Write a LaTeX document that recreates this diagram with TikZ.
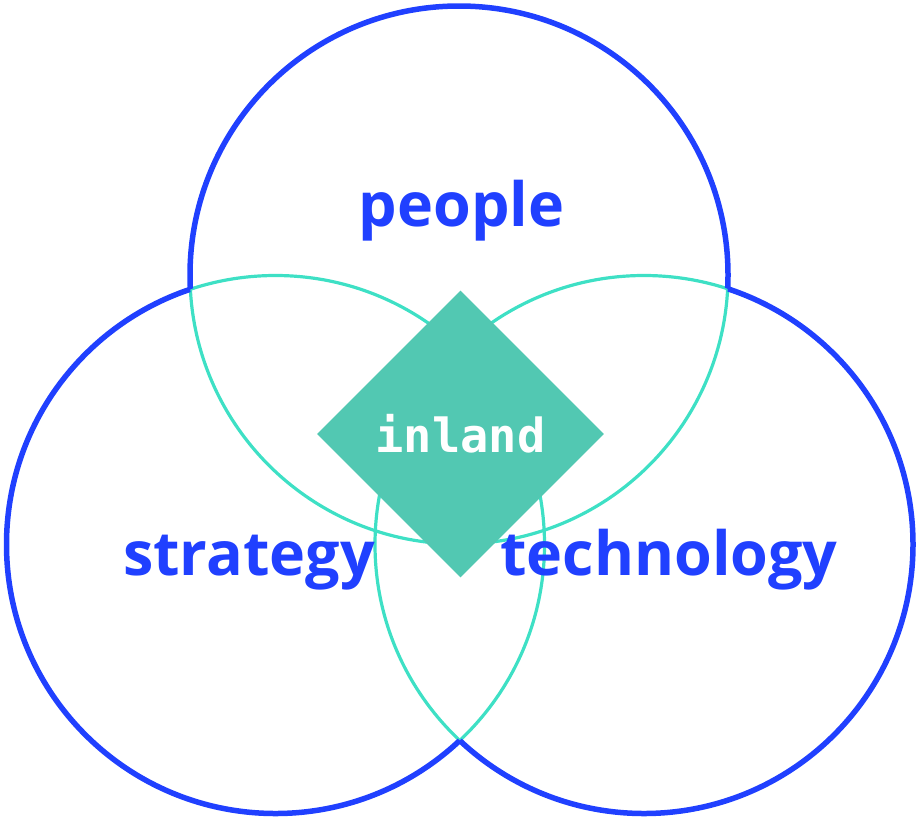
\documentclass[tikz,border=0pt]{standalone}
\usepackage{fontspec}
\newfontfamily\lblfont{Open Sans Bold}
\newfontfamily\monofnt{DejaVu Sans Mono Bold}
\usetikzlibrary{shapes.geometric}
\definecolor{vblue}{HTML}{2040FF}
\definecolor{vteal}{HTML}{3EE0C5}
\definecolor{dteal}{HTML}{52C8B2}
\tikzset{
  outerarc/.style={draw=vblue,line width=5.5pt},
  innerarc/.style={draw=vteal,line width=3.2pt},
  lbl/.style={text=vblue,font=\lblfont\fontsize{61}{70}\selectfont,inner sep=0pt,anchor=base},
  core/.style={shape=diamond,fill=dteal,aspect=1,minimum width=287pt,minimum height=287pt,inner sep=0pt,text=white,font=\monofnt\fontsize{47}{50}\selectfont}
}
\begin{document}
\begin{tikzpicture}[x=1pt,y=-1pt]
\useasboundingbox (0,0) rectangle (920,820);
\coordinate (c1) at (459,275);
\coordinate (c2) at (275.5,544.5);
\coordinate (c3) at (644,544.5);
% inner (teal) full circles
\draw[innerarc] (c1) circle[radius=269pt];
\draw[innerarc] (c2) circle[radius=269pt];
\draw[innerarc] (c3) circle[radius=269pt];
% outer (blue) parts
\begin{scope}[even odd rule]
  \clip (-20,-20) rectangle (940,840) (c2) circle[radius=269pt];
  \begin{scope}[even odd rule]
    \clip (-20,-20) rectangle (940,840) (c3) circle[radius=269pt];
    \draw[outerarc] (c1) circle[radius=269pt];
  \end{scope}
\end{scope}
\begin{scope}[even odd rule]
  \clip (-20,-20) rectangle (940,840) (c1) circle[radius=269pt];
  \begin{scope}[even odd rule]
    \clip (-20,-20) rectangle (940,840) (c3) circle[radius=269pt];
    \draw[outerarc] (c2) circle[radius=269pt];
  \end{scope}
\end{scope}
\begin{scope}[even odd rule]
  \clip (-20,-20) rectangle (940,840) (c1) circle[radius=269pt];
  \begin{scope}[even odd rule]
    \clip (-20,-20) rectangle (940,840) (c2) circle[radius=269pt];
    \draw[outerarc] (c3) circle[radius=269pt];
  \end{scope}
\end{scope}
% centre diamond
\node[core] (inland) at (460.5,434) {inland};
% labels
\node[lbl] (people) at (461.5,226) {people};
\node[lbl] (strategy) at (249,575) {strategy};
\node[lbl] (technology) at (669,575) {technology};
\end{tikzpicture}
\end{document}
